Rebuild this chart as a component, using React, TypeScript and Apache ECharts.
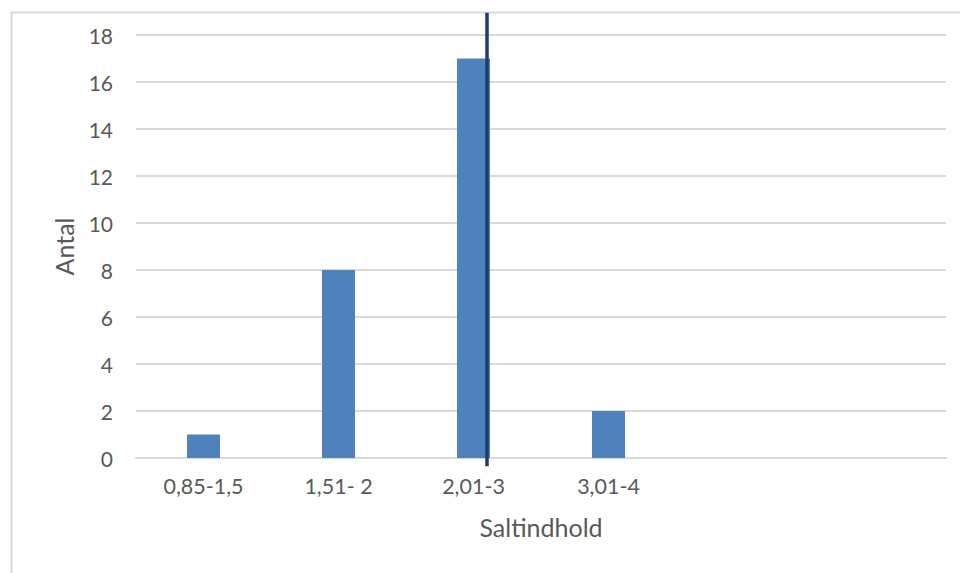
import React, { useEffect, useRef } from "react";
import * as echarts from "echarts";

const categories = ["0,85-1,5", "1,51- 2", "2,01-3", "3,01-4", "", ""];
const counts: (number | null)[] = [1, 8, 17, 2, null, null];
const yTicks = { min: 0, max: 18, interval: 2 };
// vertical marker line position (in category units, 0..6 across the plot) and extent
const markerX = 2.6;
const markerBottom = -0.35;
const markerTop = 18.95;

export default function App() {
  const ref = useRef<HTMLDivElement>(null);
  useEffect(() => {
    if (!ref.current) return;
    const chart = echarts.init(ref.current, null, { renderer: "svg" });
    const font = "Lato, 'Open Sans', sans-serif";
    chart.setOption({
      animation: false,
      backgroundColor: "#ffffff",
      graphic: [
        {
          type: "rect",
          shape: { x: 11.5, y: 12.5, width: 1000, height: 700 },
          style: { fill: "none", stroke: "#d9d9d9", lineWidth: 2 },
          silent: true,
        },
      ],
      grid: { left: 136, right: 14, top: 35, bottom: 115, containLabel: false },
      xAxis: [
        {
          type: "category",
          data: categories,
          axisLine: { show: true, lineStyle: { color: "#d9d9d9", width: 2 } },
          axisTick: { show: false },
          axisLabel: { color: "#595959", fontSize: 21.5, fontFamily: font, margin: 17, interval: 0 },
          name: "Saltindhold",
          nameLocation: "middle",
          nameGap: 56,
          nameTextStyle: { color: "#595959", fontSize: 25, fontFamily: font },
        },
        {
          type: "value",
          min: 0,
          max: 6,
          show: false,
        },
      ],
      yAxis: {
        type: "value",
        min: yTicks.min,
        max: yTicks.max,
        interval: yTicks.interval,
        axisLine: { show: false },
        axisTick: { show: false },
        axisLabel: { color: "#595959", fontSize: 21, fontFamily: font, margin: 23 },
        splitLine: { lineStyle: { color: "#d9d9d9", width: 2 } },
        name: "Antal",
        nameLocation: "middle",
        nameGap: 60,
        nameTextStyle: { color: "#595959", fontSize: 25, fontFamily: font },
      },
      series: [
        {
          type: "bar",
          data: counts,
          barWidth: 33,
          itemStyle: { color: "#4f81bd" },
          xAxisIndex: 0,
        },
        {
          type: "line",
          xAxisIndex: 1,
          data: [
            [markerX, markerBottom],
            [markerX, markerTop],
          ],
          clip: false,
          symbol: "none",
          z: 5,
          lineStyle: { color: "#1f3d6c", width: 3.5 },
        },
      ],
    });
    return () => chart.dispose();
  }, []);
  return (
    <div
      ref={ref}
      style={{ position: "absolute", left: 0, top: 0, width: 960, height: 573 }}
    />
  );
}
